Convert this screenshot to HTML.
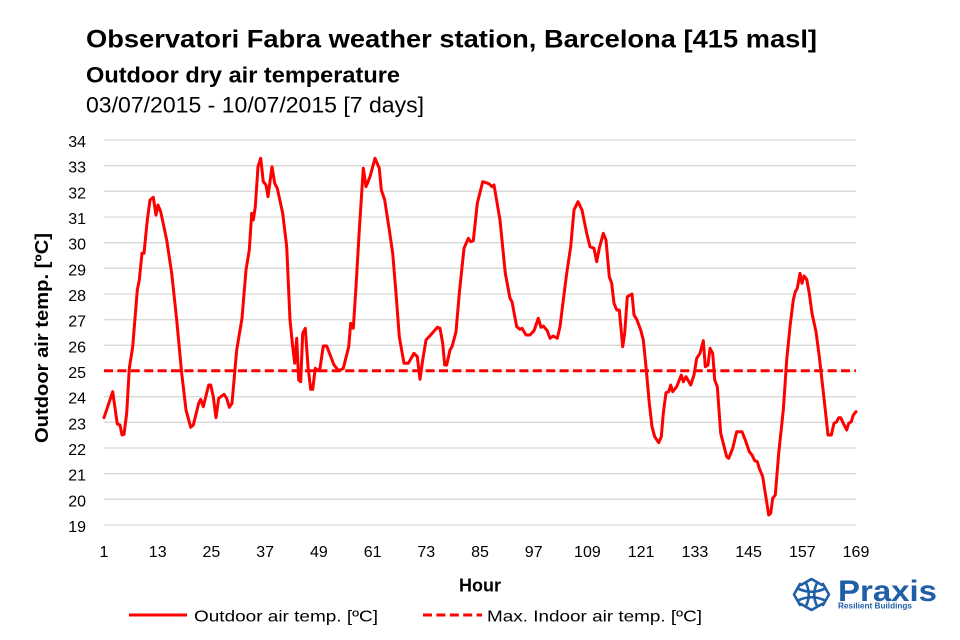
<!DOCTYPE html>
<html>
<head>
<meta charset="utf-8">
<style>
html,body{margin:0;padding:0;background:#fff;}
svg{display:block;}
text{font-family:"Liberation Sans",sans-serif;fill:#000;}
</style>
</head>
<body>
<svg width="960" height="640" viewBox="0 0 960 640" xmlns="http://www.w3.org/2000/svg">
<rect width="960" height="640" fill="#fff"/>
<text x="86" y="47.5" font-size="25" font-weight="bold" textLength="731" lengthAdjust="spacingAndGlyphs">Observatori Fabra weather station, Barcelona [415 masl]</text>
<text x="86" y="82.5" font-size="22" font-weight="bold" textLength="314" lengthAdjust="spacingAndGlyphs">Outdoor dry air temperature</text>
<text x="86" y="112.5" font-size="22" textLength="338" lengthAdjust="spacingAndGlyphs">03/07/2015 - 10/07/2015 [7 days]</text>

<g stroke="#d9d9d9" stroke-width="1.3">
<line x1="104" x2="856" y1="140" y2="140"/>
<line x1="104" x2="856" y1="165.67" y2="165.67"/>
<line x1="104" x2="856" y1="191.33" y2="191.33"/>
<line x1="104" x2="856" y1="217" y2="217"/>
<line x1="104" x2="856" y1="242.67" y2="242.67"/>
<line x1="104" x2="856" y1="268.33" y2="268.33"/>
<line x1="104" x2="856" y1="294" y2="294"/>
<line x1="104" x2="856" y1="319.67" y2="319.67"/>
<line x1="104" x2="856" y1="345.33" y2="345.33"/>
<line x1="104" x2="856" y1="371" y2="371"/>
<line x1="104" x2="856" y1="396.67" y2="396.67"/>
<line x1="104" x2="856" y1="422.33" y2="422.33"/>
<line x1="104" x2="856" y1="448" y2="448"/>
<line x1="104" x2="856" y1="473.67" y2="473.67"/>
<line x1="104" x2="856" y1="499.33" y2="499.33"/>
<line x1="104" x2="856" y1="525" y2="525"/>
</g>

<g font-size="16" text-anchor="end">
<text x="86" y="147">34</text>
<text x="86" y="172.67">33</text>
<text x="86" y="198.33">32</text>
<text x="86" y="224">31</text>
<text x="86" y="249.67">30</text>
<text x="86" y="275.33">29</text>
<text x="86" y="301">28</text>
<text x="86" y="326.67">27</text>
<text x="86" y="352.33">26</text>
<text x="86" y="378">25</text>
<text x="86" y="403.67">24</text>
<text x="86" y="429.33">23</text>
<text x="86" y="455">22</text>
<text x="86" y="480.67">21</text>
<text x="86" y="506.33">20</text>
<text x="86" y="532">19</text>
</g>

<g font-size="16" text-anchor="middle">
<text x="104" y="557">1</text>
<text x="157.7" y="557">13</text>
<text x="211.4" y="557">25</text>
<text x="265.1" y="557">37</text>
<text x="318.9" y="557">49</text>
<text x="372.6" y="557">61</text>
<text x="426.3" y="557">73</text>
<text x="480" y="557">85</text>
<text x="533.7" y="557">97</text>
<text x="587.4" y="557">109</text>
<text x="641.1" y="557">121</text>
<text x="694.9" y="557">133</text>
<text x="748.6" y="557">145</text>
<text x="802.3" y="557">157</text>
<text x="856" y="557">169</text>
</g>

<text x="480" y="591.5" font-size="18" font-weight="bold" text-anchor="middle">Hour</text>
<text transform="translate(48,338) rotate(-90)" font-size="18" font-weight="bold" text-anchor="middle" textLength="210" lengthAdjust="spacingAndGlyphs">Outdoor air temp. [ºC]</text>

<line x1="104" x2="856" y1="370.7" y2="370.7" stroke="#ff0000" stroke-width="3" stroke-dasharray="9 4.4"/>

<polyline fill="none" stroke="#ff0000" stroke-width="3" stroke-linejoin="round" stroke-linecap="round" points="104,417.7 112.7,391.7 117.3,424 120,425 122,435 124,434.3 126.7,413.3 129.3,368.3 132.7,346.7 137.3,290 139.3,280 142,253.3 144,253.3 147.3,220 150,200 153.3,197.3 156,215 158,205 160.7,211.7 166.7,240 171.7,273.3 176.7,320 181.7,373.3 186,410 190.7,427.3 193.3,425 198.7,403.3 200.7,399.3 203.3,406.7 208.7,385 210.7,385 213.3,396.7 216,417.7 218.7,398.3 224,394.3 226.7,398.3 229.3,407.3 232,403.3 236.7,350 242,318.3 246,270 249.3,250 251.7,213.3 253.3,220 255.3,206.7 258,166.7 260.7,158.3 263.3,181.7 266,185 268,196.7 272,166.7 274.7,183.3 277.3,188.3 282.7,213.3 286.7,246.7 290,320 292.7,346.7 294.7,363.3 296.7,338.3 298.7,380 300.7,381.7 302.7,333.3 305.3,328.3 308,366.7 310.7,389.3 312.7,389.3 315.3,368.3 317.3,370.7 320,368.3 323.3,346 326.7,346 334,365 338.7,370.7 343.3,368.3 348.7,346.7 350.7,323.3 353.3,328.3 356,286.7 359.3,230 363.3,168.3 366,186.7 370,176.7 375,158.3 379.3,168.3 381.3,190 384.7,200 389.3,230 392.7,253.3 396,293.3 399.3,336.7 404,363.3 408.3,363.3 414,353.3 417.3,356.7 420,379.3 422.7,360 426,340 430.7,335 437.3,327.3 440,328.3 442.7,343.3 444.7,365 446.7,365 450,350 452,346.7 456,331.7 459.3,293.3 464,248.3 468.3,238.3 470.7,241.7 473.3,240.7 477.3,203.3 482.7,181.7 486,182.7 489.3,184 492,186.7 494,185 500,220 505.3,273.3 510,298.3 512,301.7 516.7,326.7 520,329.3 522,328.3 526,335 530,335 534,330.7 538.3,318.3 541,327.3 543.3,326 547.3,330.7 550,338.3 553.3,336 557.3,338.3 560,326.7 563.3,300 566.7,273.3 570.7,246.7 574,210 578,201.7 582,210 586.7,233.3 590,246.7 594,248.3 596.7,261.7 599.3,248.3 603.3,233.3 606,240 609.3,276.7 611.7,283.3 614,303.3 616.7,310 619.3,310 622.7,346.7 624.7,333.3 627.3,296.7 632,294 634,315 636.7,319.3 640.7,330 643.3,340 646,366.7 649.3,403.3 652,426.7 654.7,436.7 658.7,442.7 661.3,436.7 663.3,413.3 666,392.7 668.7,391.7 670.7,385 672.7,391.7 676.7,386.7 679.3,380 681.3,375 683.3,381.7 686,376.7 690.7,385 694,375 696.7,358.3 700,353.3 703.3,340.7 705.3,366.7 708,365 710,348.3 712.7,353.3 714.7,380 717.3,386.7 720.7,433.3 726.7,456.7 728.7,458.3 732.7,448.3 736.7,431.7 742,431.7 745.3,440 749.3,451.7 752,455 754.7,460.7 757.3,461.7 759.3,468.3 762.7,476.7 765.3,493.3 768.7,515 770.7,513.3 772.7,498.3 775.3,495 778.7,453.3 783.3,410 786.7,360 790,326.7 793.3,300 795.3,291.7 797.3,288.3 800,273.3 802,283.3 804,276 806.7,279.3 809.3,293.3 812,313.3 816,331.7 819.3,356.7 822.7,386.7 825.3,410 828,435 831.3,435 834,423.3 836.7,421.7 838.7,417.7 840.7,417.7 843.3,423.3 846.7,430 848.7,423.3 851.3,421.7 853.3,415 856,411.7"/>

<line x1="129" x2="187" y1="615" y2="615" stroke="#ff0000" stroke-width="3"/>
<text x="194" y="621.5" font-size="16" textLength="184" lengthAdjust="spacingAndGlyphs">Outdoor air temp. [ºC]</text>
<line x1="423" x2="482" y1="615" y2="615" stroke="#ff0000" stroke-width="3" stroke-dasharray="9 4.4"/>
<text x="487" y="621.5" font-size="16" textLength="215" lengthAdjust="spacingAndGlyphs">Max. Indoor air temp. [ºC]</text>

<g fill="none" stroke="#1f5ea8" stroke-width="2.6" stroke-linejoin="round" stroke-linecap="round">
<path d="M801 585 L811.5 579 L822 585"/>
<path d="M801 604 L811.5 610 L822 604"/>
<path d="M800 584 L794 594.5 L800 605"/>
<path d="M823 584 L829 594.5 L823 605"/>
<path d="M806 583 Q811.5 594.5 806 606"/>
<path d="M817 583 Q811.5 594.5 817 606"/>
<path d="M799 589 Q811.5 594.5 824 589"/>
<path d="M799 600 Q811.5 594.5 824 600"/>
</g>
<text x="838" y="601" font-size="30" font-weight="bold" fill="#1f5ea8" style="fill:#1f5ea8" textLength="99" lengthAdjust="spacingAndGlyphs">Praxis</text>
<text x="838" y="608.5" font-size="8.5" font-weight="bold" style="fill:#1f5ea8" textLength="74" lengthAdjust="spacingAndGlyphs">Resilient Buildings</text>
</svg>
</body>
</html>
